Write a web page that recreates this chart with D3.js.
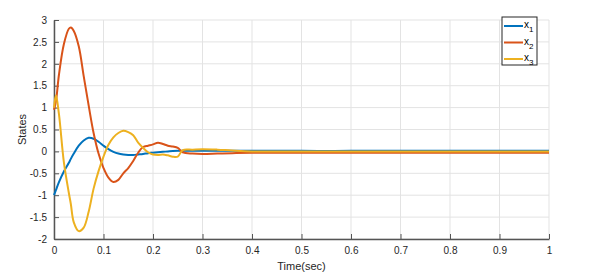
<!DOCTYPE html>
<html lang="en">

<head>
    <meta charset="UTF-8">
    <title>States vs time</title>
    <script src="https://cdn.jsdelivr.net/npm/d3@7"></script>
</head>

<body>
    <script>
        // values
        const time = [0, 0.004, 0.01, 0.02, 0.03, 0.034, 0.04, 0.05, 0.06, 0.07, 0.08, 0.09, 0.1, 0.11, 0.12, 0.13, 0.14, 0.15, 0.16, 0.17, 0.18, 0.19, 0.2, 0.21, 0.22, 0.23, 0.24, 0.25, 0.26, 0.28, 0.3, 0.33, 0.36, 0.4, 0.5, 0.6, 0.7, 0.8, 0.9, 1.0];
        const x1 = [-1.0, -0.88, -0.7, -0.46, -0.26, -0.17, -0.05, 0.13, 0.25, 0.31, 0.29, 0.22, 0.13, 0.05, -0.01, -0.05, -0.07, -0.08, -0.08, -0.07, -0.06, -0.04, -0.03, -0.02, -0.01, 0.0, 0.01, 0.015, 0.015, 0.015, 0.015, 0.015, 0.015, 0.015, 0.012, 0.012, 0.012, 0.012, 0.012, 0.012];
        const x2 = [0.95, 1.15, 1.75, 2.45, 2.8, 2.83, 2.75, 2.4, 1.72, 1.05, 0.42, -0.05, -0.38, -0.6, -0.7, -0.65, -0.5, -0.38, -0.22, -0.03, 0.1, 0.13, 0.16, 0.2, 0.17, 0.13, 0.11, 0.08, -0.02, -0.05, -0.06, -0.05, -0.04, -0.03, -0.03, -0.03, -0.03, -0.03, -0.03, -0.03];
        const x3 = [1.0, 1.28, 0.85, -0.25, -0.95, -1.2, -1.62, -1.82, -1.74, -1.38, -0.85, -0.45, -0.12, 0.15, 0.32, 0.42, 0.47, 0.44, 0.37, 0.2, 0.08, -0.02, -0.07, -0.08, -0.07, -0.09, -0.12, -0.12, 0.03, 0.04, 0.05, 0.04, 0.02, 0.0, 0.0, 0.0, 0.0, 0.0, 0.0, 0.0];
        const seriesNames = ["1", "2", "3"];
        const colors = ["#0072BD", "#D95319", "#EDB120"];
        const xTicks = [0, 0.1, 0.2, 0.3, 0.4, 0.5, 0.6, 0.7, 0.8, 0.9, 1];
        const yTicks = [-2, -1.5, -1, -0.5, 0, 0.5, 1, 1.5, 2, 2.5, 3];

        const width = 612;
        const height = 274;
        const margin = { top: 20, right: 63, bottom: 35, left: 54 };
        const font = "'Liberation Sans', Arial, sans-serif";

        const svg = d3.select("body").append("svg").attr("width", width).attr("height", height);

        const x = d3.scaleLinear().domain([0, 1]).range([margin.left, width - margin.right]);
        const y = d3.scaleLinear().domain([-2, 3]).range([height - margin.bottom, margin.top]);

        // grid
        svg.append("g")
            .selectAll("line")
            .data(xTicks)
            .join("line")
            .attr("x1", d => x(d)).attr("x2", d => x(d))
            .attr("y1", y(-2)).attr("y2", y(3))
            .attr("stroke", "#e3e3e3");
        svg.append("g")
            .selectAll("line")
            .data(yTicks)
            .join("line")
            .attr("x1", x(0)).attr("x2", x(1))
            .attr("y1", d => y(d)).attr("y2", d => y(d))
            .attr("stroke", "#e3e3e3");

        // axes, ticks pointing inward like matlab
        const fmt = d => String(d);
        const xAxis = svg.append("g")
            .attr("transform", `translate(0,${y(-2)})`)
            .call(d3.axisBottom(x).tickValues(xTicks).tickFormat(fmt).tickSizeInner(-5).tickSizeOuter(0).tickPadding(8));
        const yAxis = svg.append("g")
            .attr("transform", `translate(${x(0)},0)`)
            .call(d3.axisLeft(y).tickValues(yTicks).tickFormat(fmt).tickSizeInner(-5).tickSizeOuter(0).tickPadding(7));
        [xAxis, yAxis].forEach(a => {
            a.selectAll("path").attr("stroke", "#555").attr("stroke-width", 1.5);
            a.selectAll("line").attr("stroke", "#555");
            a.selectAll("text").attr("fill", "#262626").style("font-family", font).style("font-size", "10px");
        });

        svg.append("text")
            .attr("x", (x(0) + x(1)) / 2)
            .attr("y", 270)
            .attr("text-anchor", "middle")
            .style("font-family", font).style("font-size", "11px").attr("fill", "#262626")
            .text("Time(sec)");
        svg.append("text")
            .attr("transform", `translate(26,${(y(-2) + y(3)) / 2}) rotate(-90)`)
            .attr("text-anchor", "middle")
            .style("font-family", font).style("font-size", "11px").attr("fill", "#262626")
            .text("States");

        // lines
        const series = [x1, x2, x3];
        const line = d3.line()
            .x(d => x(d[0]))
            .y(d => y(d[1]))
            .curve(d3.curveCatmullRom.alpha(0.5));
        svg.append("g")
            .selectAll("path")
            .data(series)
            .join("path")
            .attr("d", s => line(time.map((t, i) => [t, s[i]])))
            .attr("fill", "none")
            .attr("stroke", (s, i) => colors[i])
            .attr("stroke-width", 2);

        // legend
        const lg = svg.append("g").attr("transform", "translate(502,17)");
        lg.append("rect")
            .attr("width", 35).attr("height", 48)
            .attr("fill", "white").attr("stroke", "#262626").attr("stroke-width", 1);
        const rows = lg.selectAll("g")
            .data(seriesNames)
            .join("g")
            .attr("transform", (d, i) => `translate(0,${9 + i * 16.5})`);
        rows.append("line")
            .attr("x1", 2).attr("x2", 21)
            .attr("stroke", (d, i) => colors[i]).attr("stroke-width", 2);
        const lt = rows.append("text")
            .attr("x", 22).attr("y", 2)
            .style("font-family", font).style("font-size", "10px").attr("fill", "#000");
        lt.append("tspan").text("x");
        lt.append("tspan").attr("dy", 4).style("font-size", "8px").text(d => d);
    </script>
    <style>
        * {
            margin: 0;
            padding: 0;
        }
    </style>
</body>

</html>
